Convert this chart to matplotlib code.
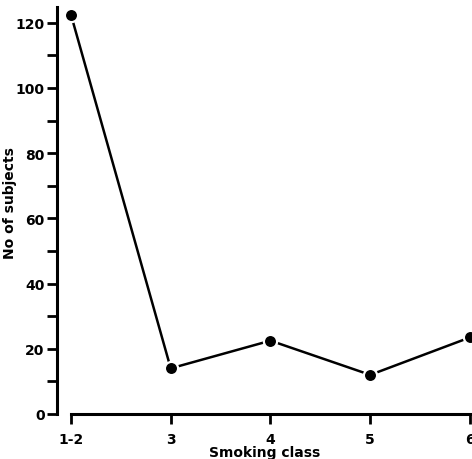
import numpy as np
import matplotlib
matplotlib.use('Agg')
import matplotlib.pyplot as plt
from matplotlib.ticker import MultipleLocator

# values
classes = ['1-2', '3', '4', '5', '6']
n_subjects = [122.5, 14, 22.5, 12, 23.5]

plt.rcParams['font.family'] = 'DejaVu Sans'
plt.rcParams['font.weight'] = 'bold'
plt.rcParams['axes.labelweight'] = 'bold'

fig = plt.figure(figsize=(4.72, 4.60), dpi=100)
# axes placed so that y=0 sits on the x-axis and the last point reaches the figure edge
ax = fig.add_axes([57 / 472, 45 / 460, 415 / 472, 407.5 / 460])

x = np.arange(len(classes))
ax.plot(x, n_subjects, color='black', lw=1.8, marker='o', ms=9.5,
        mfc='black', mec='white', mew=1.6, clip_on=False, zorder=3)

ax.set_xlim(-0.14, 4.02)
ax.set_ylim(0, 125)

for side in ['top', 'right']:
    ax.spines[side].set_visible(False)
ax.spines['left'].set_linewidth(2.2)
ax.spines['bottom'].set_linewidth(2.2)
ax.spines['left'].set_bounds(0, 125)
ax.spines['bottom'].set_bounds(0, 4.02)

ax.set_xticks(x)
ax.set_xticklabels(classes)
ax.yaxis.set_major_locator(MultipleLocator(20))
ax.yaxis.set_minor_locator(MultipleLocator(10))
ax.tick_params(axis='both', which='both', direction='out', width=2, length=7,
               labelsize=10, pad=2)
ax.tick_params(axis='x', pad=6)
ax.tick_params(axis='y', which='minor', length=7)

ax.set_xlabel('Smoking class', fontsize=10, labelpad=-1)
ax.set_ylabel('No of subjects', fontsize=10)
ax.yaxis.set_label_coords(-40 / 415, 0.52)

fig.savefig('out.png', dpi=100)
